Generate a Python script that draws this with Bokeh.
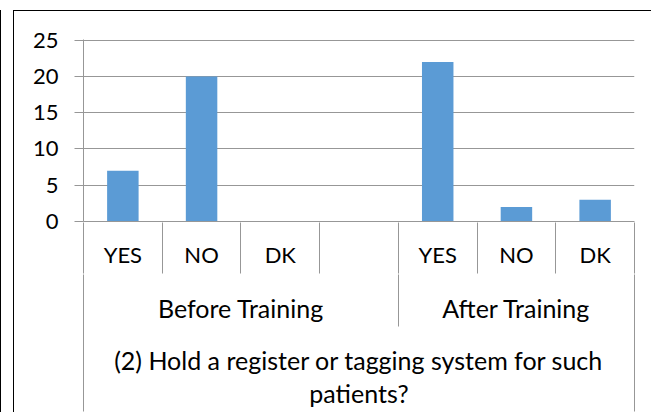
from bokeh.plotting import figure
from bokeh.models import Range1d, LinearAxis, FixedTicker
from bokeh.embed import file_html
from bokeh.resources import INLINE

# ---- data ----
groups = ["Before Training", "After Training"]
before_labels = ["YES", "NO", "DK", ""]
before_values = [7, 20, 0, float("nan")]
after_labels = ["YES", "NO", "DK"]
after_values = [22, 2, 3]
question = "(2) Hold a register or tagging system for such\npatients?"
y_ticks = [0, 5, 10, 15, 20, 25]

# ---- style ----
BAR = "#5B9BD5"
GRID = "#979797"
FONT = "Lato"
TXT = "#000000"

group_labels = [before_labels, after_labels]
group_values = [before_values, after_values]

values, flat_labels = [], []
bounds = [0]
for labs, vals in zip(group_labels, group_values):
    values.extend(vals)
    flat_labels.extend(labs)
    bounds.append(bounds[-1] + len(labs))
n = len(flat_labels)
centers = [i + 0.5 for i in range(n)]          # slot centres on the category scale
group_centers = [(bounds[i] + bounds[i + 1]) / 2 for i in range(len(groups))]

p = figure(width=638, height=402,
           x_range=Range1d(0, n), y_range=Range1d(0, 25.1),
           x_axis_location=None, y_axis_location="left",
           output_backend="svg", toolbar_location=None,
           min_border_left=69, min_border_right=18,
           min_border_top=28, min_border_bottom=192)
p.styles = {"margin-left": "13px", "margin-top": "10px",
            "border-left": "1px solid #000", "border-top": "1px solid #000",
            "box-shadow": "-12px 0 0 0 #fff, -13px 0 0 0 #000"}
p.outline_line_color = None
p.xgrid.visible = False

p.vbar(x=centers, top=values, width=0.4, color=BAR, line_color=None)

yt = FixedTicker(ticks=y_ticks)
p.yaxis.ticker = yt
p.ygrid.ticker = yt
p.ygrid.grid_line_color = GRID
p.yaxis.axis_line_color = GRID
p.yaxis.major_tick_line_color = GRID
p.yaxis.major_tick_out = 9
p.yaxis.major_tick_in = 0
p.yaxis.minor_tick_line_color = None
p.yaxis.major_label_standoff = 16
p.yaxis.major_label_text_font = FONT
p.yaxis.major_label_text_font_size = "22px"
p.yaxis.major_label_text_color = TXT


def band_axis(ticks, labels, minor, tick_in, tick_out, standoff, size,
              lh=1.0, line=False):
    ax = LinearAxis(
        ticker=FixedTicker(ticks=ticks, minor_ticks=minor),
        major_label_overrides={t: l for t, l in zip(ticks, labels)},
        major_tick_out=0, major_tick_in=0, major_tick_line_color=None,
        minor_tick_out=tick_out, minor_tick_in=tick_in,
        minor_tick_line_color=GRID if minor else None,
        axis_line_color=GRID if line else None,
        major_label_standoff=standoff,
        major_label_text_font=FONT, major_label_text_font_size=f"{size}px",
        major_label_text_color=TXT, major_label_text_line_height=lh,
    )
    p.add_layout(ax, "below")
    return ax


t1 = [c for c, l in zip(centers, flat_labels) if l]
l1 = [l for l in flat_labels if l]
# band 1: category labels
band_axis(t1, l1, [], 0, 0, 19, 22, line=True)
# band 2: group labels; its ticks draw the category separators of band 1
band_axis(group_centers, groups, list(range(n + 1)), 48, 3, 19, 25)
# band 3: question; its ticks draw the group separators of band 2
band_axis([n / 2], [question], bounds, 51, 1, 18, 25, lh=1.1)
# closing ticks: outer separators of band 3
band_axis([], [], [bounds[0], bounds[-1]], 100, 1, 0, 25)

open("out.html", "w").write(file_html(p, INLINE))
